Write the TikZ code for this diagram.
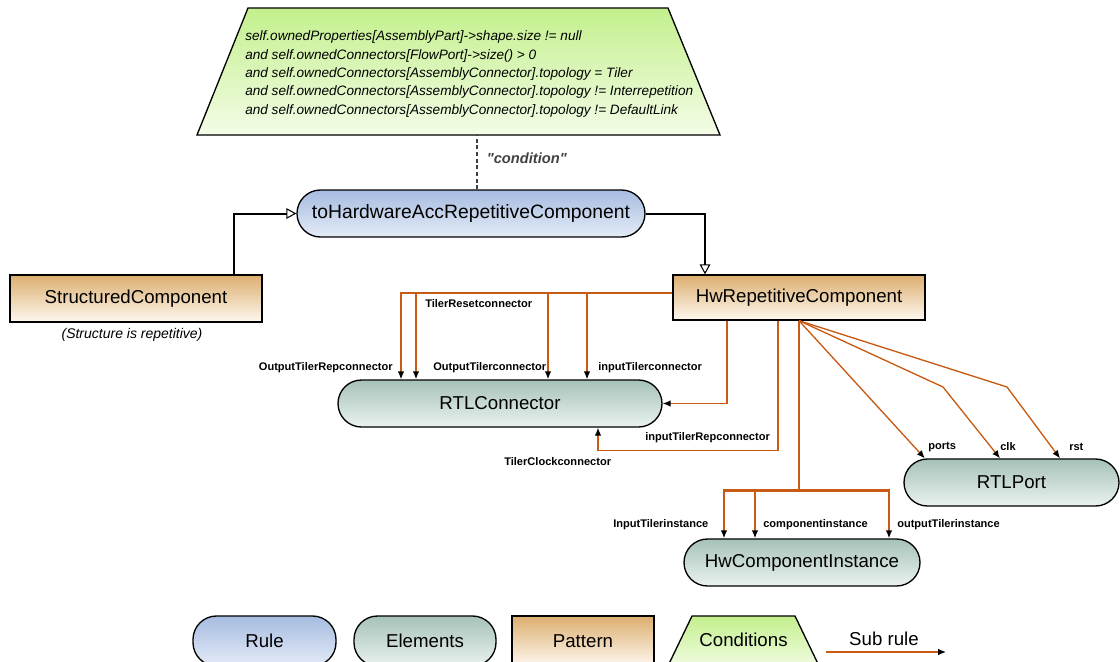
\documentclass[tikz,border=0pt]{standalone}
\usepackage{fontspec}
\setmainfont{Liberation Sans}[Ligatures=TeXOff]
\usetikzlibrary{arrows.meta}

\definecolor{subrulecol}{RGB}{200,90,20}
\definecolor{ruletop}{RGB}{166,188,224}
\definecolor{rulebot}{RGB}{228,235,247}
\definecolor{elemtop}{RGB}{166,194,184}
\definecolor{elembot}{RGB}{234,242,239}
\definecolor{pattop}{RGB}{220,174,110}
\definecolor{patbot}{RGB}{254,248,240}
\definecolor{condtop}{RGB}{195,240,140}
\definecolor{condbot}{RGB}{244,252,232}

\begin{document}
\begin{tikzpicture}[
    x=0.75pt, y=-0.75pt,
    every node/.style={font=\fontsize{14}{16}\selectfont, inner sep=2pt},
    rulebox/.style={draw, line width=1pt, rounded corners=17.6pt, minimum height=35.25pt, top color=ruletop, bottom color=rulebot},
    elembox/.style={draw, line width=1pt, rounded corners=17.6pt, minimum height=35.25pt, top color=elemtop, bottom color=elembot},
    patbox/.style={draw, line width=1pt, minimum height=35.25pt, top color=pattop, bottom color=patbot},
    condshape/.style={draw, line width=1pt, top color=condtop, bottom color=condbot},
    condtxt/.style={font=\fontsize{10.2}{13.7}\selectfont\itshape, align=left, inner sep=0pt},
    condlink/.style={dash pattern=on 3pt off 2pt, line width=0.8pt, black!75},
    inherit/.style={-{Triangle[open, length=7.5pt, width=8pt, line width=0.8pt]}, line width=1.5pt},
    subrule/.style={-{Latex[length=6pt, width=5pt, color=black]}, draw=subrulecol, line width=1pt},
    subrulebold/.style={subrule, line width=1.8pt},
    lbl/.style={font=\fontsize{8.3}{9}\selectfont\bfseries, inner sep=0pt},
]
\useasboundingbox (0,0) rectangle (1120,661);
\clip (0,0) rectangle (1120,661);

% ---- Condition ----
\path[condshape] (248,8) -- (668,8) -- (720,135) -- (197,135) -- cycle;
\coordinate (condbase) at (477,135);
\node[condtxt, anchor=west] (condtext) at (245,74) {self.ownedProperties[AssemblyPart]->shape.size != null\\
and self.ownedConnectors[FlowPort]->size() > 0\\
and self.ownedConnectors[AssemblyConnector].topology = Tiler\\
and self.ownedConnectors[AssemblyConnector].topology != Interrepetition\\
and self.ownedConnectors[AssemblyConnector].topology != DefaultLink};

% ---- Rule and patterns ----
\node[rulebox, minimum width=261pt, font=\fontsize{14.5}{16}\selectfont] (rule) at (471,213.5) {toHardwareAccRepetitiveComponent};
\node[patbox, minimum width=189pt] (struct) at (136,298.5) {StructuredComponent};
\node[font=\fontsize{10.5}{12}\selectfont\itshape] (structnote) at (132,335) {(Structure is repetitive)};
\node[patbox, minimum width=189pt, minimum height=33.75pt] (hw) at (799,297.5) {HwRepetitiveComponent};

\draw[condlink] (rule.north -| condbase) -- (condbase)
    node[pos=0.58, anchor=west, font=\fontsize{11}{12}\selectfont\bfseries\itshape, xshift=5pt] (condlabel) {"condition"};
\draw[inherit] ([xshift=73.5pt]struct.north) |- (rule.west);
\draw[inherit] (rule.east) -| ([xshift=-70.5pt]hw.north);

% ---- Elements ----
\node[elembox, minimum width=243pt] (rtl) at (500,403.5) {RTLConnector};
\node[elembox, minimum width=161.25pt] (port) at (1011.5,482.5) {RTLPort};
\node[elembox, minimum width=177pt] (inst) at (802,562.5) {HwComponentInstance};

% ---- Sub rules to RTLConnector ----
\coordinate (hwl) at ([yshift=3.4pt]hw.west);
\draw[subrule] (hwl) -| ([xshift=-74.25pt]rtl.north);
\draw[subrulebold] (hwl) -| ([xshift=-63pt]rtl.north);
\draw[subrulebold] (hwl) -| ([xshift=36pt]rtl.north);
\draw[subrule] (hwl) -| ([xshift=65.25pt]rtl.north);
\draw[subrule] ([xshift=-54pt]hw.south) |- (rtl.east);
\draw[subrule] ([xshift=-15.75pt]hw.south) |- ([xshift=73.5pt, yshift=-17.25pt]rtl.south) -- ([xshift=73.5pt]rtl.south);

\node[lbl, anchor=west] (lreset) at (425,304) {TilerResetconnector};
\node[lbl, anchor=east] (loutrep) at (393,368) {OutputTilerRepconnector};
\node[lbl, anchor=west] (lout) at (433,368) {OutputTilerconnector};
\node[lbl, anchor=west] (lin) at (598,368) {inputTilerconnector};
\node[lbl, anchor=west] (linrep) at (645,438) {inputTilerRepconnector};
\node[lbl, anchor=west] (lclock) at (504,462) {TilerClockconnector};

% ---- Sub rules to RTLPort ----
\draw[subrule] (hw.south) -- ([xshift=-65pt]port.north);
\draw[subrule] (hw.south) -- (943,387) -- ([xshift=-8.6pt]port.north);
\draw[subrule] (hw.south) -- (1007,387) -- ([xshift=36.4pt]port.north);
\node[lbl, anchor=west] (lports) at (928,447) {ports};
\node[lbl, anchor=west] (lclk) at (1000,447) {clk};
\node[lbl, anchor=west] (lrst) at (1069,447) {rst};

% ---- Sub rules to HwComponentInstance ----
\draw[subrulebold, -] (hw.south) -- ++(0,170) coordinate (split);
\draw[subrulebold] (split) -| ([xshift=-58.5pt]inst.north);
\draw[subrulebold] (split) -| ([xshift=-35.25pt]inst.north);
\draw[subrulebold] (split) -| ([xshift=65.25pt]inst.north);
\node[lbl, anchor=west] (linput) at (613,525) {InputTilerinstance};
\node[lbl, anchor=west] (lcomp) at (763,525) {componentinstance};
\node[lbl, anchor=west] (loutput) at (897,525) {outputTilerinstance};

% ---- Legend ----
\node[rulebox, minimum width=107.25pt, minimum height=37.5pt] (legrule) at (264.5,641) {Rule};
\node[elembox, minimum width=106.5pt, minimum height=37.5pt] (legelem) at (425,641) {Elements};
\node[patbox, minimum width=106.5pt, minimum height=37.5pt] (legpat) at (583,641) {Pattern};
\path[condshape] (692,616) -- (795,616) -- (821,670) -- (666,670) -- cycle;
\node (legcond) at (743.5,640) {Conditions};
\node (legsub) at (884,639) {Sub rule};
\coordinate (subtail) at (826,652);
\coordinate (subhead) at (946,652);
\draw[subrule] (subtail) -- (subhead);
\end{tikzpicture}
\end{document}
